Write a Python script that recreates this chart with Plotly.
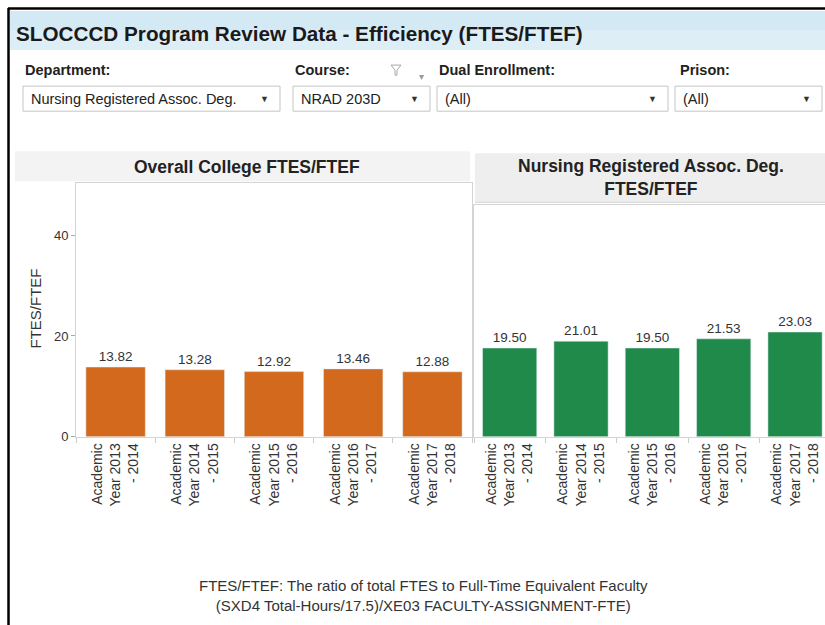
import plotly.graph_objects as go

years = ["Academic<br>Year 2013<br>- 2014", "Academic<br>Year 2014<br>- 2015",
         "Academic<br>Year 2015<br>- 2016", "Academic<br>Year 2016<br>- 2017",
         "Academic<br>Year 2017<br>- 2018"]
college_vals = [13.82, 13.28, 12.92, 13.46, 12.88]
program_vals = [19.50, 21.01, 19.50, 21.53, 23.03]
y_ticks = [0, 20, 40]

# page is shot a little taller than the window, so the figure is 634px tall
W, H = 825, 634
FONT = "Liberation Sans, Arial, sans-serif"
ORANGE = "#d2691c"
GREEN = "#1f8a4a"


def px(x):
    return x / W


def py(y):
    # y positions are measured on the 625px tall reference
    return 1 - y / 625


fig = go.Figure()

fig.add_trace(go.Bar(x=years, y=college_vals, marker_color=ORANGE, width=0.75,
                     texttemplate="%{y:.2f}", textposition="outside",
                     textfont=dict(size=13.5, color="#333333"), cliponaxis=False,
                     xaxis="x", yaxis="y", showlegend=False))
fig.add_trace(go.Bar(x=years, y=program_vals, marker_color=GREEN, width=0.76,
                     texttemplate="%{y:.2f}", textposition="outside",
                     textfont=dict(size=13.5, color="#333333"), cliponaxis=False,
                     xaxis="x2", yaxis="y2", showlegend=False))

shapes = []
# black frame
shapes.append(dict(type="line", xref="paper", yref="paper", x0=px(8.5), x1=px(8.5), y0=py(8), y1=0,
                   line=dict(color="black", width=2.5)))
shapes.append(dict(type="line", xref="paper", yref="paper", x0=px(8), x1=px(825), y0=py(8.5), y1=py(8.5),
                   line=dict(color="black", width=2.5)))
# title band
shapes.append(dict(type="rect", xref="paper", yref="paper", x0=px(10), x1=px(825), y0=py(11), y1=py(30),
                   fillcolor="#d3e9f4", line_width=0, layer="below"))
shapes.append(dict(type="rect", xref="paper", yref="paper", x0=px(10), x1=px(825), y0=py(30), y1=py(50),
                   fillcolor="#ddeef7", line_width=0, layer="below"))
# chart header bands
shapes.append(dict(type="rect", xref="paper", yref="paper", x0=px(15), x1=px(470), y0=py(151), y1=py(181),
                   fillcolor="#f3f3f3", line_width=0, layer="below"))
shapes.append(dict(type="rect", xref="paper", yref="paper", x0=px(475), x1=px(825), y0=py(153), y1=py(202),
                   fillcolor="#eeeeee", line_width=0, layer="below"))
shapes.append(dict(type="line", xref="paper", yref="paper", x0=px(475), x1=px(825), y0=py(202), y1=py(202),
                   line=dict(color="#d4d4d4", width=1)))

# filter dropdowns
boxes = [(23, 280, "Nursing Registered Assoc. Deg."), (293, 430, "NRAD 203D"),
         (437, 668, "(All)"), (675, 822, "(All)")]
annotations = []
for x0, x1, label in boxes:
    shapes.append(dict(type="rect", xref="paper", yref="paper", x0=px(x0), x1=px(x1), y0=py(86), y1=py(111),
                       fillcolor="white", line=dict(color="#c4c4c4", width=1)))
    annotations.append(dict(text=label, x=px(x0 + 6), y=py(98.5), xref="paper", yref="paper",
                            xanchor="left", yanchor="middle", showarrow=False,
                            font=dict(family=FONT, size=14.5, color="#222222")))
    annotations.append(dict(text="▼", x=px(x1 - 16), y=py(98.5), xref="paper", yref="paper",
                            xanchor="center", yanchor="middle", showarrow=False,
                            font=dict(family=FONT, size=9, color="#333333")))

filters = [(23, "Department:"), (293, "Course:"), (437, "Dual Enrollment:"), (678, "Prison:")]
for x0, label in filters:
    annotations.append(dict(text="<b>" + label + "</b>", x=px(x0), y=py(70), xref="paper", yref="paper",
                            xanchor="left", yanchor="middle", showarrow=False,
                            font=dict(family=FONT, size=14.5, color="#222222")))

# small filter icon next to Course
shapes.append(dict(type="path", xref="paper", yref="paper",
                   path=f"M {px(391)} {py(65)} L {px(401)} {py(65)} L {px(397)} {py(70)} L {px(397)} {py(75)} "
                        f"L {px(395)} {py(75)} L {px(395)} {py(70)} Z",
                   fillcolor="white", line=dict(color="#a8a8a8", width=1)))
annotations.append(dict(text="▾", x=px(422), y=py(69), xref="paper", yref="paper", showarrow=False,
                        font=dict(family=FONT, size=10, color="#999999")))

# title
annotations.append(dict(text="<b>SLOCCCD Program Review Data - Efficiency (FTES/FTEF)</b>",
                        x=px(14), y=py(33), xref="paper", yref="paper", xanchor="left", yanchor="middle",
                        showarrow=False, font=dict(family=FONT, size=20.7, color="#1a1a1a")))
# chart headers
annotations.append(dict(text="<b>Overall College FTES/FTEF</b>", x=px(247), y=py(167), xref="paper",
                        yref="paper", xanchor="center", yanchor="middle", showarrow=False,
                        font=dict(family=FONT, size=17.5, color="#222222")))
annotations.append(dict(text="<b>Nursing Registered Assoc. Deg.<br>FTES/FTEF</b>", x=px(651), y=py(177),
                        xref="paper", yref="paper", xanchor="center", yanchor="middle", showarrow=False,
                        font=dict(family=FONT, size=17.5, color="#222222")))
# y axis title
annotations.append(dict(text="FTES/FTEF", x=px(35), y=py(308), xref="paper", yref="paper", textangle=-90,
                        xanchor="center", yanchor="middle", showarrow=False,
                        font=dict(family=FONT, size=15, color="#333333")))
# footnote
annotations.append(dict(text="FTES/FTEF: The ratio of total FTES to Full-Time Equivalent Faculty<br>"
                             "(SXD4 Total-Hours/17.5)/XE03 FACULTY-ASSIGNMENT-FTE)",
                        x=px(423), y=py(595), xref="paper", yref="paper", xanchor="center", yanchor="middle",
                        showarrow=False, font=dict(family=FONT, size=15, color="#333333")))

axis_line = "#d4d4d4"
xcommon = dict(type="category", tickangle=-90, showline=True, linecolor=axis_line, mirror=True,
               ticks="outside", tickson="boundaries", ticklen=5, tickcolor="#cccccc",
               tickfont=dict(family=FONT, size=14, color="#333333"), showgrid=False, fixedrange=True)

fig.update_layout(
    width=W, height=H, margin=dict(l=0, r=0, t=0, b=0),
    paper_bgcolor="white", plot_bgcolor="white",
    font=dict(family=FONT),
    xaxis=dict(xcommon, domain=[px(76), px(472)], anchor="y", range=[-0.5, 4.5]),
    yaxis=dict(domain=[py(436), py(183)], anchor="x", range=[0, 50.3], tickvals=y_ticks,
               showline=True, linecolor=axis_line, mirror=True, ticks="outside", ticklen=4,
               tickcolor="#aaaaaa", showgrid=False, zeroline=False,
               tickfont=dict(family=FONT, size=13, color="#333333"), fixedrange=True),
    xaxis2=dict(xcommon, domain=[px(474), 1], anchor="y2", range=[-0.5, 4.42]),
    yaxis2=dict(domain=[py(436), py(205)], anchor="x2", range=[0, 50.9], showticklabels=False,
                showline=True, linecolor=axis_line, mirror=False, ticks="", showgrid=False,
                zeroline=False, fixedrange=True),
    shapes=shapes, annotations=annotations, bargap=0.25,
)

# drop the default body margin so the figure starts at the window's corner
fig.write_html("out.html", config={"displayModeBar": False},
               post_script="document.body.style.margin = '0';")
